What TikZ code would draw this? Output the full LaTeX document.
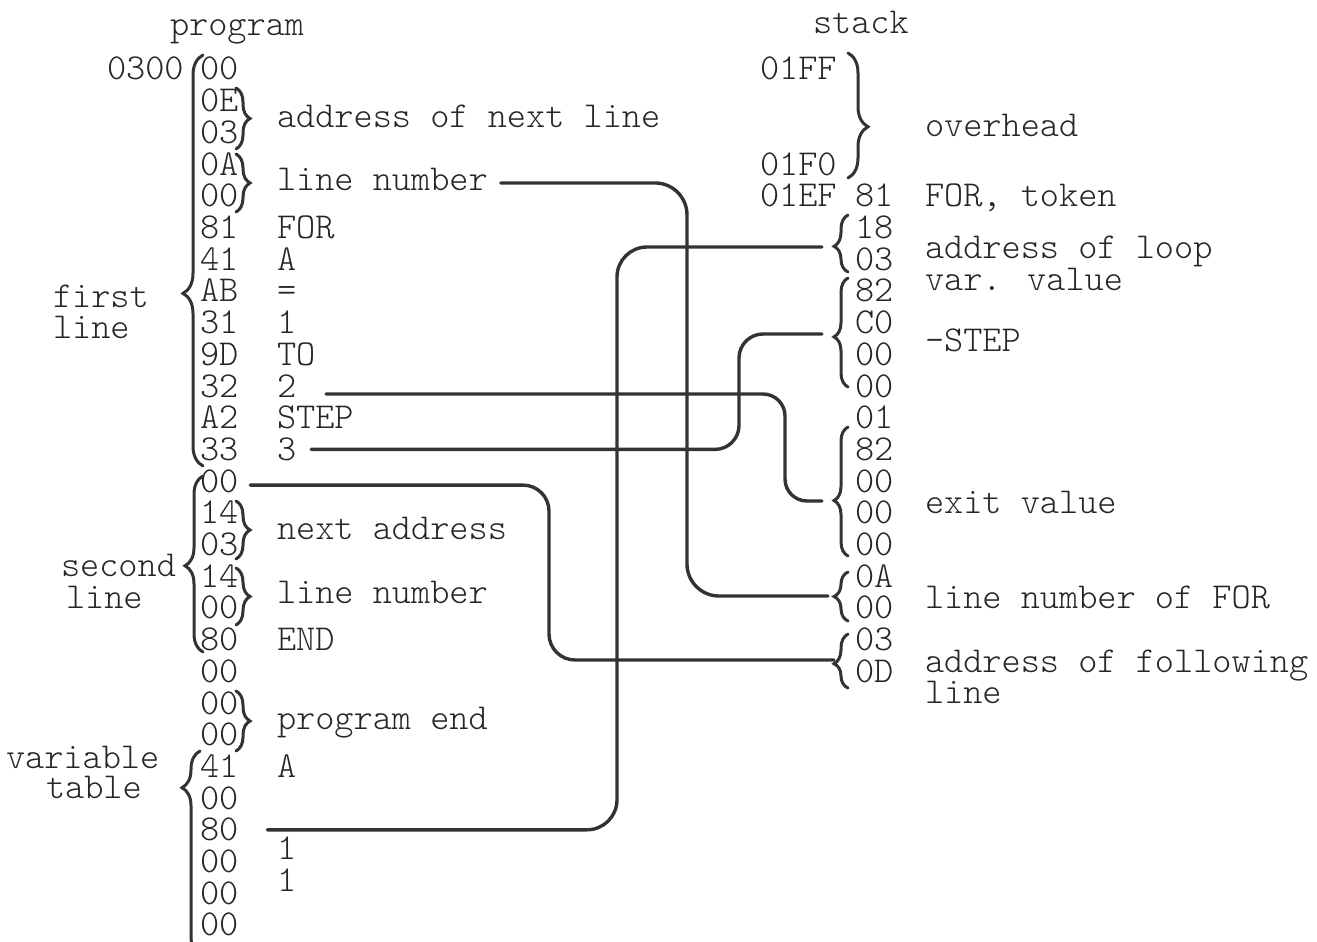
\documentclass[tikz,border=0pt]{standalone}
\usetikzlibrary{decorations.pathreplacing,calc}
\definecolor{ink}{HTML}{262626}
\definecolor{ink2}{HTML}{333333}
\newcommand{\twfont}{\fontsize{36.5}{40}\ttfamily\fontseries{l}\selectfont}
\newcommand{\RY}[1]{69+31.7*(#1)}
\tikzset{
  tw/.style={font=\twfont, text=ink, anchor=west, inner sep=0pt, outer sep=0pt, text height=22pt, text depth=0pt},
  conn/.style={draw=ink2, line width=3.4pt, line cap=round, rounded corners=#1},
  conn/.default=24pt,
  brc/.style n args={2}{draw=ink2, line width=3pt, line cap=round, decorate, decoration={brace, amplitude=#1, aspect=#2}},
}
\begin{document}
\begin{tikzpicture}[x=1pt,y=-1pt]
\fill[white] (0,0) rectangle (1317,942);
\useasboundingbox (0,0) rectangle (1317,942);

% ---------- program side ----------
\node[tw] (lprog) at (170,25) {program};
\node[tw] (a0300) at (107,{\RY{0}}) {0300};
\foreach \t [count=\i from 0] in {00,0E,03,0A,00,81,41,AB,31,9D,32,A2,33,00,14,03,14,00,80,00,00,00,41,00,80,00,00,00}
  \node[tw] (p\i) at (200,{\RY{\i}}) {\t};

\node[tw] (tfor)  at (277,{\RY{5}})  {FOR};
\node[tw] (ta)    at (277,{\RY{6}})  {A};
\node[tw] (teq)   at (277,{\RY{7}})  {=};
\node[tw] (tone)  at (277,{\RY{8}})  {1};
\node[tw] (tto)   at (277,{\RY{9}})  {TO};
\node[tw] (ttwo)  at (277,{\RY{10}}) {2};
\node[tw] (tstep) at (277,{\RY{11}}) {STEP};
\node[tw] (tthree) at (277,{\RY{12}}) {3};
\node[tw] (tend)  at (277,{\RY{18}}) {END};
\node[tw] (tva)   at (277,{\RY{22}}) {A};
\node[tw] (tv1)   at (277,{\RY{24.6}}) {1};
\node[tw] (tv2)   at (277,{\RY{25.6}}) {1};

\node[tw] (anl)  at (277,{\RY{1.5}})  {address of next line};
\node[tw] (aln1) at (277,{\RY{3.5}})  {line number};
\node[tw] (ana)  at (277,{\RY{14.5}}) {next address};
\node[tw] (aln2) at (277,{\RY{16.5}}) {line number};
\node[tw] (ape)  at (277,{\RY{20.5}}) {program end};

\node[tw] (lfirst)  at (53,296) {first};
\node[tw] (lline1)  at (53,327) {line};
\node[tw] (lsecond) at (61,565) {second};
\node[tw] (lline2)  at (66,597) {line};
\node[tw] (lvar)    at (6,757)  {variable};
\node[tw] (ltable)  at (46,787) {table};

% program braces
\draw[brc={20pt}{0.42}] (203,466) -- (203,55);
\draw[brc={18pt}{0.49}] (203,652) -- (203,476);
\draw[brc={18pt}{0.82}] (200,955) -- (200,751);
\draw[brc={14pt}{0.5}] (236,88) -- (236,149);
\draw[brc={14pt}{0.5}] (236,154) -- (236,212);
\draw[brc={14pt}{0.5}] (236,501) -- (236,559);
\draw[brc={14pt}{0.5}] (236,568) -- (236,625);
\draw[brc={14pt}{0.5}] (236,691) -- (236,751);

% ---------- stack side ----------
\node[tw] (lstack) at (813,23) {stack};
\node[tw] (s01ff) at (760,{\RY{0}}) {01FF};
\node[tw] (s01f0) at (760,{\RY{3}}) {01F0};
\node[tw] (s01ef) at (760,{\RY{4}}) {01EF};
\foreach \t [count=\i from 4] in {81,18,03,82,C0,00,00,01,82,00,00,00,0A,00,03,0D}
  \node[tw] (s\i) at (855,{\RY{\i}}) {\t};

\node[tw] (aover) at (925,125) {overhead};
\node[tw] (afor)  at (925,{\RY{4}}) {FOR, token};
\node[tw] (aloop) at (925,247) {address of loop};
\node[tw] (avar)  at (925,279) {var. value};
\node[tw] (astep) at (925,340) {-STEP};
\node[tw] (aexit) at (925,502) {exit value};
\node[tw] (alnf)  at (925,597) {line number of FOR};
\node[tw] (afol)  at (925,661) {address of following};
\node[tw] (afol2) at (925,692) {line};

% stack braces
\draw[brc={20pt}{0.59}] (848,53) -- (848,178);
\draw[brc={14pt}{0.45}] (848,272) -- (848,215);
\draw[brc={14pt}{0.46}] (848,387) -- (848,278);
\draw[brc={14pt}{0.43}] (848,556) -- (848,427);
\draw[brc={14pt}{0.5}]  (848,621) -- (848,572);
\draw[brc={14pt}{0.45}] (848,688) -- (848,634);

% ---------- connector ends and columns ----------
\coordinate (eLoop) at (822,247);
\coordinate (eStep) at (822,334);
\coordinate (eExit) at (822,501);
\coordinate (eLnf)  at (828,596);
\coordinate (eFol)  at (834,660);
\coordinate (e80)   at ([xshift=29pt]p24.east);
\coordinate (vx1) at (687,0);
\coordinate (vx2) at (617,0);
\coordinate (vx3) at (785,0);
\coordinate (vx4) at (739,0);
\coordinate (vx5) at (549,0);

% ---------- connectors ----------
\draw[conn=32pt] ([xshift=13pt,yshift=-3pt]aln1.east) -| (vx1 |- eLnf) -- (eLnf);
\draw[conn=30pt] (eLoop) -| (vx2 |- e80) -- (e80);
\draw[conn=22pt] ([xshift=30pt,yshift=-8pt]ttwo.east) -| (vx3 |- eExit) -- (eExit);
\draw[conn=24pt] ([xshift=15pt]tthree.east) -| (vx4 |- eStep) -- (eStep);
\draw[conn=26pt] ([xshift=12pt,yshift=-4pt]p13.east) -| (vx5 |- eFol) -- (eFol);
\end{tikzpicture}
\end{document}
